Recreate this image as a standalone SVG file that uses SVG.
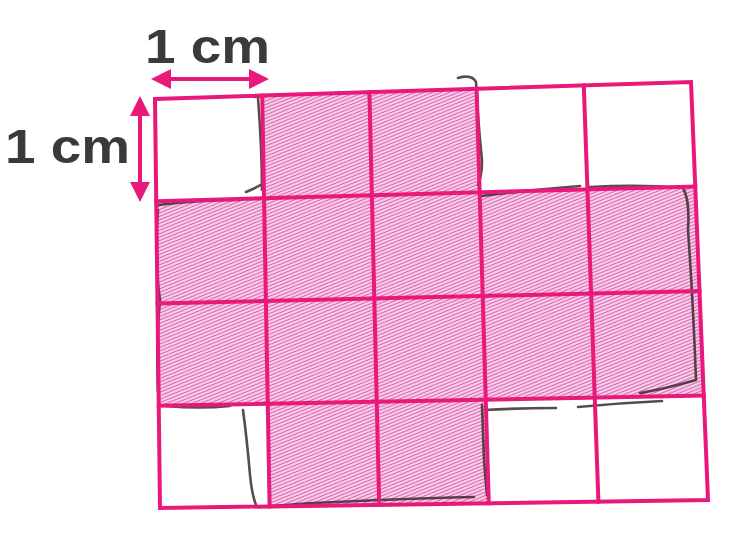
<svg xmlns="http://www.w3.org/2000/svg" width="743" height="535" viewBox="0 0 743 535">
  <defs>
    <pattern id="hatch" patternUnits="userSpaceOnUse" width="6" height="3.2" patternTransform="rotate(-22)">
      <rect width="6" height="3.2" fill="#f8d3ec"/>
      <line x1="0" y1="1.2" x2="6" y2="1.2" stroke="#dc5fab" stroke-width="1.1"/>
    </pattern>
    <marker id="ah" viewBox="0 0 10 10" refX="8" refY="5" markerWidth="5" markerHeight="5" orient="auto-start-reverse">
      <path d="M0,0 L10,5 L0,10 z" fill="#e8197a"/>
    </marker>
    <style>
      .grid { fill: none; stroke: #e8197a; stroke-width: 4; stroke-linecap: square; }
      .pen { fill: none; stroke: #3b2b2e; stroke-width: 2.6; stroke-linecap: round; stroke-linejoin: round; opacity: 0.85; }
      .lbl { font-family: "Liberation Sans", Arial, sans-serif; font-weight: bold; font-size: 48px; fill: #3a3a3a; }
      .arr { stroke: #e8197a; stroke-width: 4; fill: none; }
    </style>
  </defs>
  <rect width="743" height="535" fill="#ffffff"/>

  <!-- shaded cross-shaped figure -->
  <g id="shaded">
    <polygon fill="url(#hatch)" points="262.2,95.6 476.6,88.8 479.65,192.4 695.25,186.5 703.75,395.5 485.75,399.6 488.8,503.2 269.6,506.4 267.75,403.7 158.75,405.75 156.25,201.25 264.05,198.3"/>
  </g>

  <!-- hand-drawn pen outline -->
  <g id="pen-outline">
    <path class="pen" d="M254,97 L262,96 M258,98 Q262,150 262,190 M246,192 Q256,188 262,184"/>
    <path class="pen" d="M458,78 Q472,74 476,82 Q478,120 481,150 Q484,170 478,185"/>
    <path class="pen" d="M482,196 Q530,190 580,186 M590,187 Q640,184 683,188 Q690,200 688,230 Q693,300 696,380 Q660,390 640,393"/>
    <path class="pen" d="M158,205 Q200,200 240,200 M158,210 Q154,260 160,300 Q156,340 158,392"/>
    <path class="pen" d="M166,406 Q200,409 230,406 M243,410 Q247,440 250,475 Q252,495 256,505 M259,507 Q320,502 380,500 M382,500 Q430,498 474,497"/>
    <path class="pen" d="M482,405 Q483,430 484,460 Q486,485 487,495 M485,410 Q520,408 556,408 M578,407 Q620,403 662,401"/>
  </g>

  <!-- grid -->
  <g id="grid">
    <polygon class="grid" points="155,99 691,82 708,500 160,508"/>
    <line class="grid" x1="262.2" y1="95.6" x2="269.6" y2="506.4"/>
    <line class="grid" x1="369.4" y1="92.2" x2="379.2" y2="504.8"/>
    <line class="grid" x1="476.6" y1="88.8" x2="488.8" y2="503.2"/>
    <line class="grid" x1="583.8" y1="85.4" x2="598.4" y2="501.6"/>
    <line class="grid" x1="156.25" y1="201.25" x2="695.25" y2="186.5"/>
    <line class="grid" x1="157.5" y1="303.5" x2="699.5" y2="291"/>
    <line class="grid" x1="158.75" y1="405.75" x2="703.75" y2="395.5"/>
  </g>

  <!-- dimension arrows -->
  <g id="connectors">
    <line class="arr" x1="155" y1="79" x2="265" y2="79" marker-start="url(#ah)" marker-end="url(#ah)"/>
    <line class="arr" x1="140" y1="100" x2="140" y2="198" marker-start="url(#ah)" marker-end="url(#ah)"/>
  </g>

  <g id="label-top">
    <text class="lbl" x="145" y="63" textLength="125" lengthAdjust="spacingAndGlyphs">1 cm</text>
  </g>
  <g id="label-left">
    <text class="lbl" x="5" y="163" textLength="125" lengthAdjust="spacingAndGlyphs">1 cm</text>
  </g>
</svg>
